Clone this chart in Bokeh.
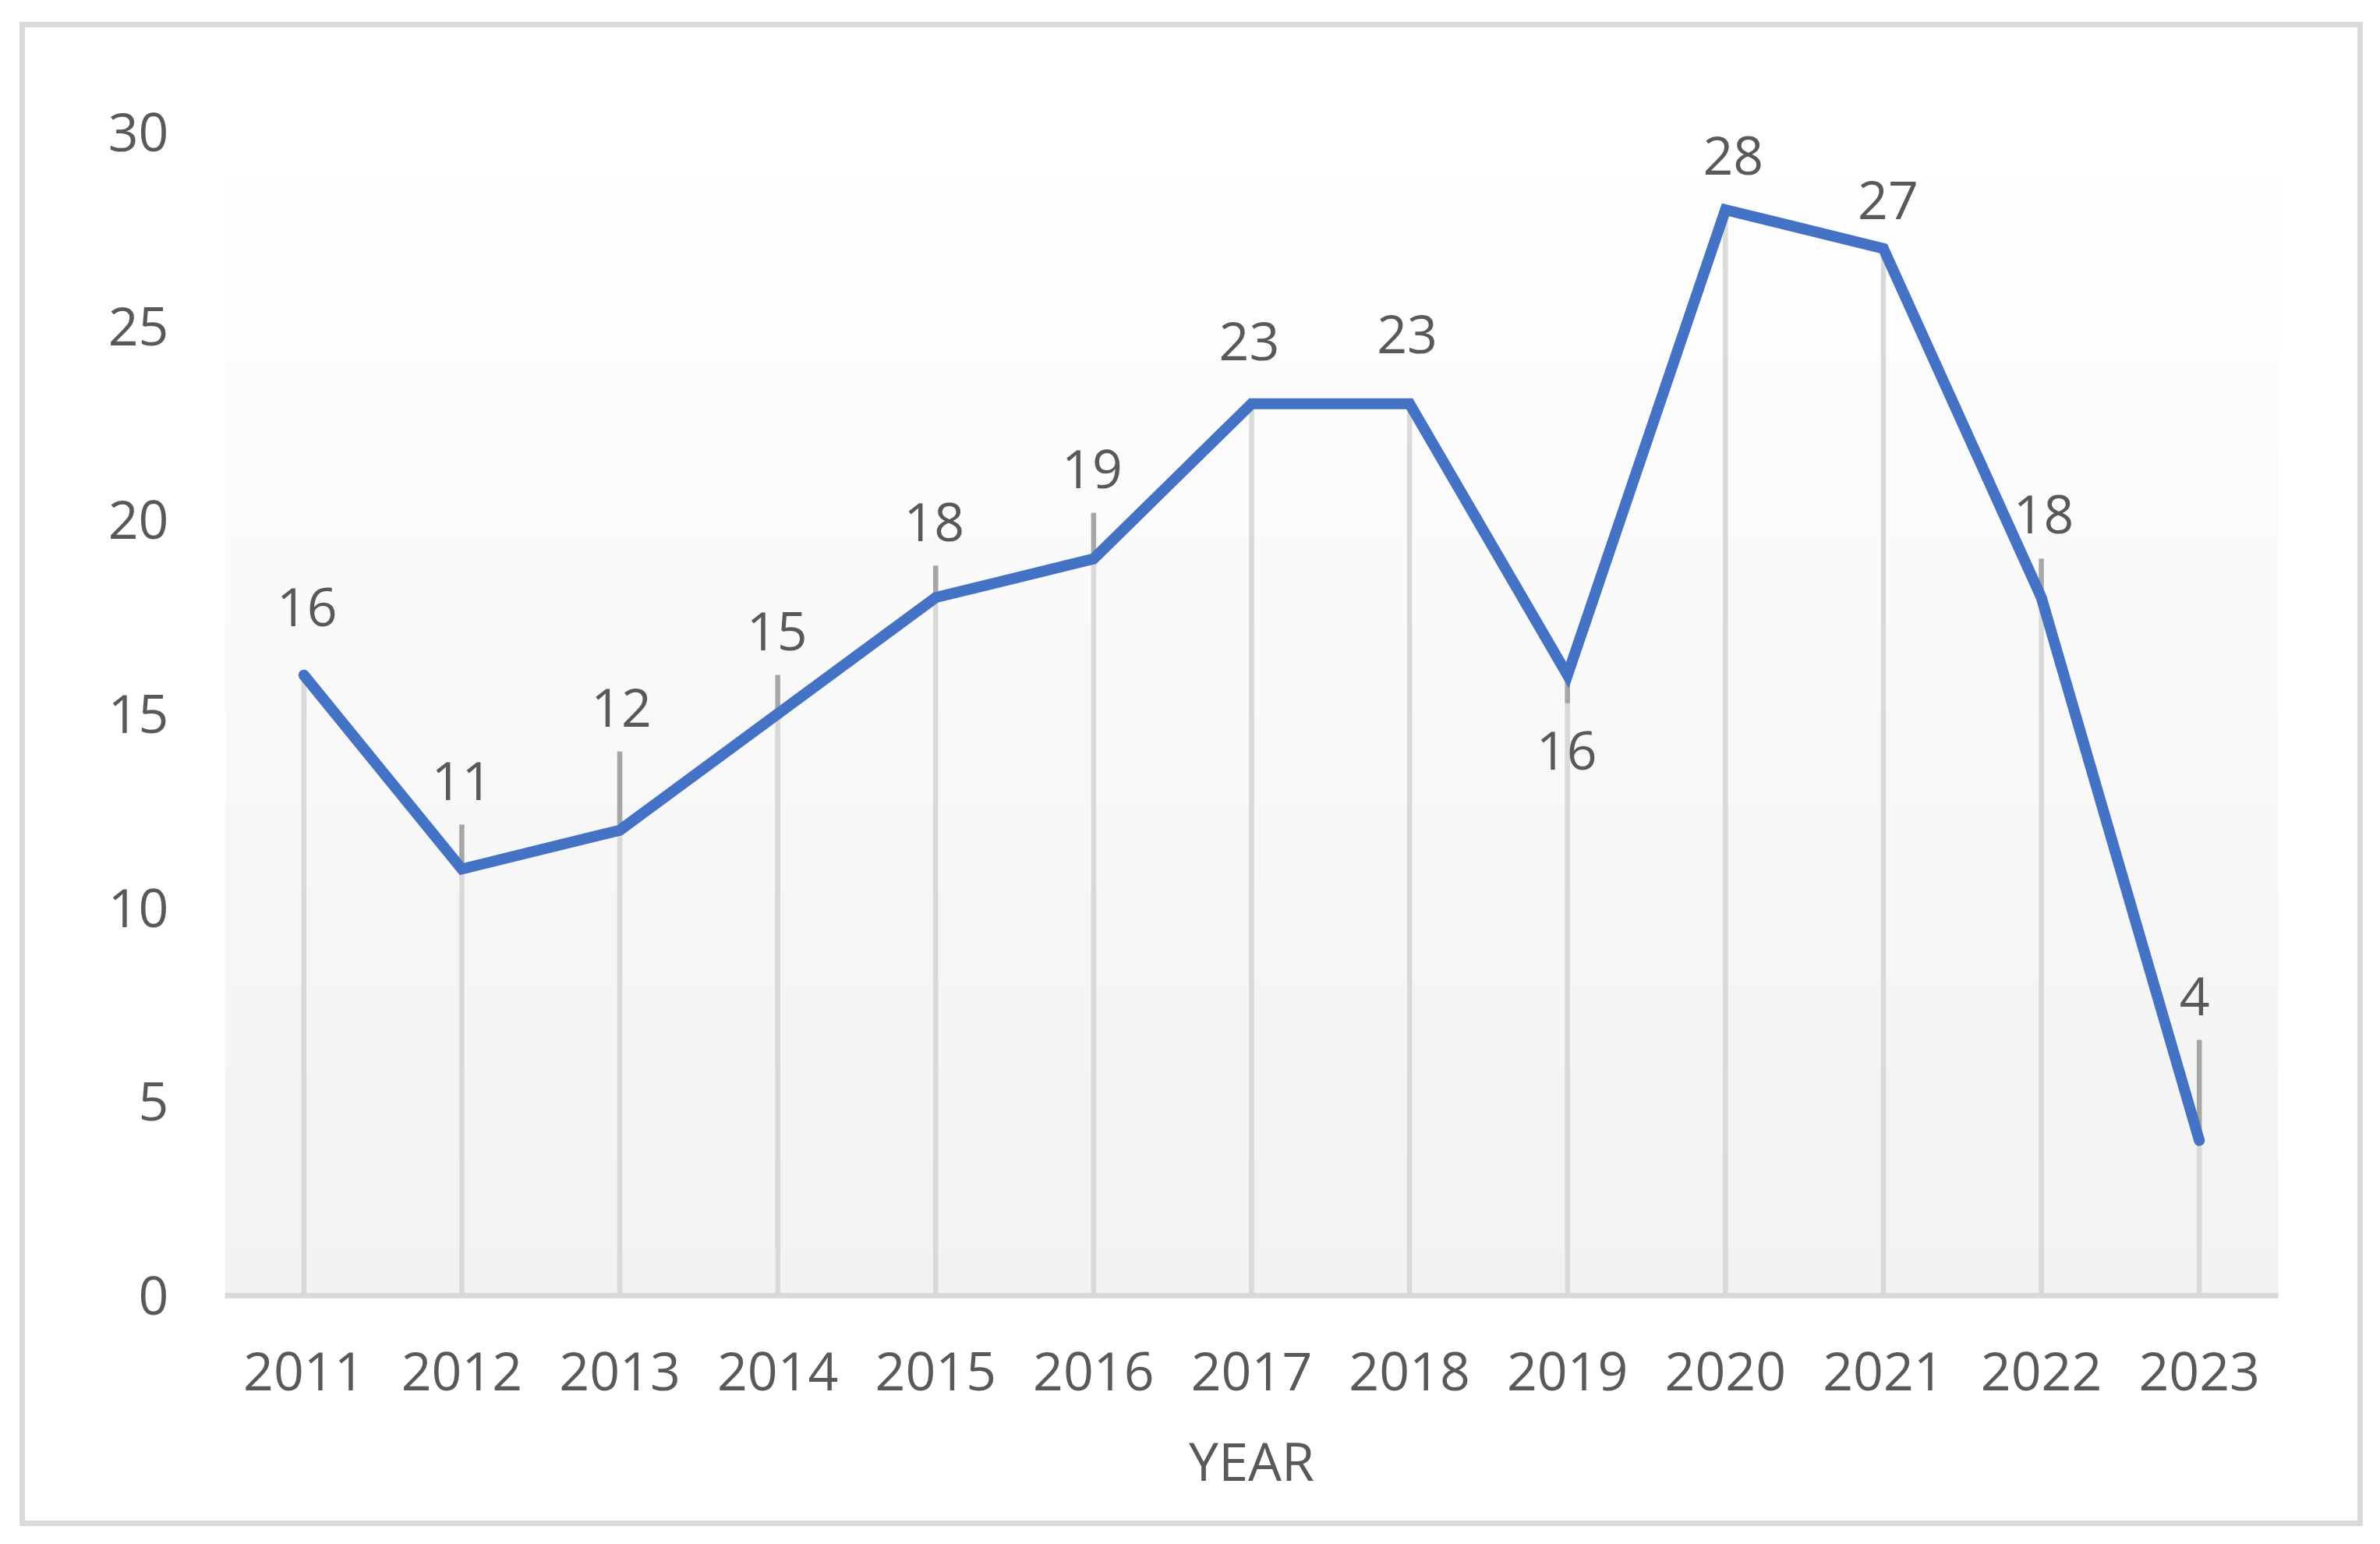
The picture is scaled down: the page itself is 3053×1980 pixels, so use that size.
import numpy as np
from bokeh.plotting import figure
from bokeh.models import (ColumnDataSource, LabelSet, FixedTicker, Range1d,
                          InlineStyleSheet)
from bokeh.core.properties import value
from bokeh.embed import file_html
from bokeh.resources import INLINE

# ---------------- data ----------------
years = ["2011", "2012", "2013", "2014", "2015", "2016", "2017",
         "2018", "2019", "2020", "2021", "2022", "2023"]
counts = [16, 11, 12, 15, 18, 19, 23, 23, 16, 28, 27, 18, 4]
y_ticks = [0, 5, 10, 15, 20, 25, 30]
x_title = "YEAR"

# ---------------- label styling (screen px offsets) ----------------
label_dx = [4, 0, 2, -1, -2, -2, -3, -3, -1, 10, 6, 3, -6]
label_dy = [87, 113, 157, 106, 97, 115, 80, 89, -97, 69, 62, 107, 185]
leader_px = [0, 57, 101, 50, 41, 59, 0, 0, -36, 0, 0, 50, 129]

FONT = "Open Sans"
TXT = "#595959"
FS = "68px"

W, H = 3052, 1979
ML, MR, MT, MB = 288, W - 2922, 169, H - 1661
frame_h = H - MT - MB
ymax = y_ticks[-1]
ppu = frame_h / ymax

idx = list(range(len(years)))

p = figure(width=W, height=H,
           x_range=Range1d(-0.5, len(years) - 0.5),
           y_range=Range1d(0, ymax),
           output_backend="svg", toolbar_location=None,
           min_border_left=ML, min_border_right=MR,
           min_border_top=MT, min_border_bottom=MB)
p.outline_line_color = None
p.background_fill_color = "white"
p.border_fill_color = "white"
p.xgrid.visible = False
p.ygrid.visible = False

# outer chart border (light grey frame around the whole chart)
border_css = InlineStyleSheet(css="""
:host { position: relative; }
:host::after {
  content: "";
  position: absolute;
  left: 25px; top: 28px;
  width: 3006px; height: 1929px;
  border: 7px solid #d9d9d9;
  box-sizing: border-box;
  pointer-events: none;
  z-index: 1000;
}
""")
p.stylesheets = [border_css]

# plot-area gradient (white top -> #f2f2f2 bottom)
n = 256
t = np.linspace(0, 1, n)  # 0 bottom, 1 top
g = (242 + 13 * t).round().astype(np.uint8)
img = np.empty((n, 1), dtype=np.uint32)
v = img.view(dtype=np.uint8).reshape((n, 1, 4))
v[:, 0, 0] = g
v[:, 0, 1] = g
v[:, 0, 2] = g
v[:, 0, 3] = 255
p.image_rgba(image=[img], x=-0.5, y=0, dw=len(years), dh=ymax)

src = ColumnDataSource(dict(
    x=idx, y=counts, zero=[0] * len(idx),
    lab=[str(c) for c in counts],
    dx=label_dx, dy=label_dy,
))

# drop lines
p.segment(x0="x", y0="zero", x1="x", y1="y", source=src,
          line_color="#d9d9d9", line_width=6.5)

# leader lines
lx = [i for i, l in zip(idx, leader_px) if l != 0]
ly0 = [c for c, l in zip(counts, leader_px) if l != 0]
ly1 = [c + l / ppu for c, l in zip(counts, leader_px) if l != 0]
p.segment(x0=lx, y0=ly0, x1=lx, y1=ly1, line_color="#a6a6a6", line_width=6.5)

# main line
p.line(x="x", y="y", source=src, line_color="#4472C4", line_width=14,
       line_join="miter", line_cap="round")

labels = LabelSet(x="x", y="y", text="lab", source=src,
                  x_offset="dx", y_offset="dy",
                  text_align="center", text_baseline="middle",
                  text_font=value(FONT), text_font_size=FS,
                  text_color=TXT)
p.add_layout(labels)

# axes
p.xaxis.ticker = FixedTicker(ticks=idx)
p.xaxis.major_label_overrides = {i: yv for i, yv in zip(idx, years)}
p.xaxis.axis_line_color = "#d9d9d9"
p.xaxis.axis_line_width = 7
p.xaxis.major_tick_line_color = None
p.xaxis.minor_tick_line_color = None
p.xaxis.major_tick_out = 0
p.xaxis.major_tick_in = 0
p.xaxis.major_label_standoff = 72
p.xaxis.major_label_text_font = FONT
p.xaxis.major_label_text_font_size = FS
p.xaxis.major_label_text_color = TXT
p.xaxis.axis_label = x_title
p.xaxis.axis_label_text_font = FONT
p.xaxis.axis_label_text_font_size = FS
p.xaxis.axis_label_text_font_style = "normal"
p.xaxis.axis_label_text_color = TXT
p.xaxis.axis_label_standoff = 40

p.yaxis.ticker = FixedTicker(ticks=y_ticks)
p.yaxis.axis_line_color = None
p.yaxis.major_tick_line_color = None
p.yaxis.minor_tick_line_color = None
p.yaxis.major_tick_out = 0
p.yaxis.major_tick_in = 0
p.yaxis.major_label_standoff = 72
p.yaxis.major_label_text_font = FONT
p.yaxis.major_label_text_font_size = FS
p.yaxis.major_label_text_color = TXT

open("out.html", "w").write(file_html(p, INLINE))
